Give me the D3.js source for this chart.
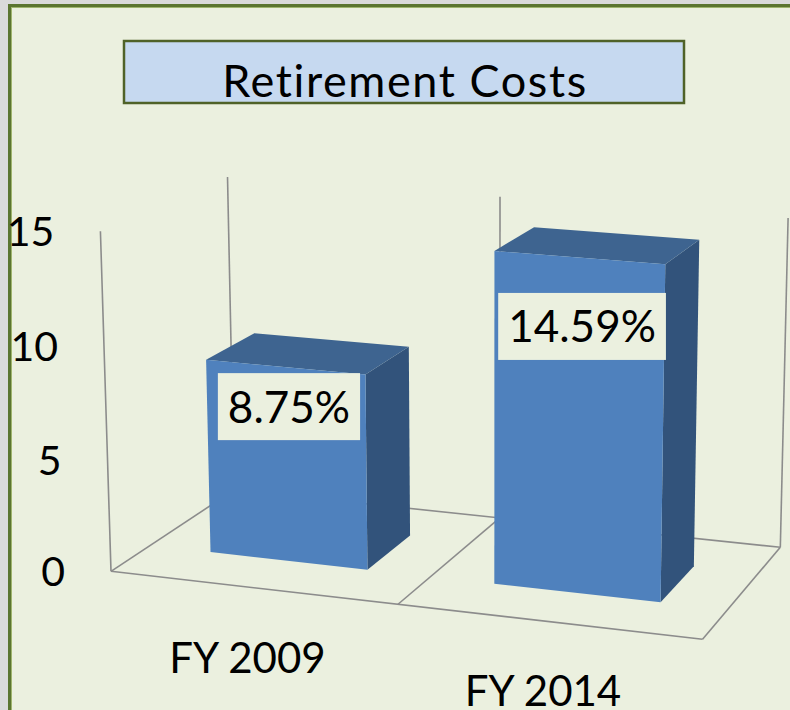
<!DOCTYPE html>
<html>
<head>
<meta charset="utf-8">
<script src="https://cdn.jsdelivr.net/npm/d3@7"></script>
<style>
  html, body { margin: 0; padding: 0; background: #dadada; }
  svg { display: block; font-family: Lato, "Noto Sans", sans-serif; }
</style>
</head>
<body>
<svg id="chart" width="790" height="710"></svg>
<script>
// data
const categories = ["FY 2009", "FY 2014"];
const values = [8.75, 14.59];
const valueLabels = ["8.75%", "14.59%"];
const yTicks = [0, 5, 10, 15];
const title = "Retirement Costs";

const W = 790, H = 710;
const svg = d3.select("#chart");

// 3d box corners (u = category axis, v = value axis, w = depth) -> screen
// these pin the perspective of the plot box, fitted below
const anchors = [
  [0, 0, 0, 110, 571],
  [0, 1, 0, 100, 232],
  [0, 0, 1, 234, 490],
  [0, 1, 1, 228, 177],
  [0.5, 1, 1, 500, 197],
  [0.5, 0, 0, 400, 603],
  [1, 1, 1, 788, 217],
  [1, 0, 1, 780, 548],
  [1, 0, 0, 702, 640]
];

function fitProjection(pts) {
  const n = 11;
  const M = Array.from({length: n}, () => new Array(n + 1).fill(0));
  function addRow(r, b) {
    for (let i = 0; i < n; i++) {
      for (let j = 0; j < n; j++) M[i][j] += r[i] * r[j];
      M[i][n] += r[i] * b;
    }
  }
  pts.forEach(([u, v, w, x, y]) => {
    addRow([u, v, w, 1, 0, 0, 0, 0, -x * u, -x * v, -x * w], x);
    addRow([0, 0, 0, 0, u, v, w, 1, -y * u, -y * v, -y * w], y);
  });
  // gauss elimination
  for (let c = 0; c < n; c++) {
    let piv = c;
    for (let r = c + 1; r < n; r++) if (Math.abs(M[r][c]) > Math.abs(M[piv][c])) piv = r;
    [M[c], M[piv]] = [M[piv], M[c]];
    for (let r = 0; r < n; r++) {
      if (r === c) continue;
      const f = M[r][c] / M[c][c];
      for (let k = c; k <= n; k++) M[r][k] -= f * M[c][k];
    }
  }
  return M.map((row, i) => row[n] / row[i]);
}

const P = fitProjection(anchors);
function project(u, v, w) {
  const d = P[8] * u + P[9] * v + P[10] * w + 1;
  return [
    (P[0] * u + P[1] * v + P[2] * w + P[3]) / d,
    (P[4] * u + P[5] * v + P[6] * w + P[7]) / d
  ];
}

// scales into the unit box
const x = d3.scaleBand().domain(categories).range([0, 1]).paddingInner(0.44).paddingOuter(0.22);
const y = d3.scaleLinear().domain([0, 15]).range([0, 1]);
const z = d3.scaleLinear().domain([0, 1]).range([0.3, 0.7]); // bar depth inside the box

// background
svg.append("rect")
  .attr("x", 9.5).attr("y", 5.5)
  .attr("width", W).attr("height", H)
  .attr("fill", "#ebf0df")
  .attr("stroke", "#5b7530")
  .attr("stroke-width", 3);
svg.append("rect")
  .attr("x", 11.5).attr("y", 7.5)
  .attr("width", W).attr("height", H)
  .attr("fill", "none")
  .attr("stroke", "#9fb56e")
  .attr("stroke-width", 1);

// title
const titleG = svg.append("g");
titleG.append("rect")
  .attr("x", 124).attr("y", 41)
  .attr("width", 560).attr("height", 62)
  .attr("fill", "#c6d9f0")
  .attr("stroke", "#4f6228")
  .attr("stroke-width", 2.5);
titleG.append("text")
  .attr("x", 405).attr("y", 97)
  .attr("text-anchor", "middle")
  .attr("font-size", 45)
  .attr("letter-spacing", 1.6)
  .attr("fill", "#000")
  .text(title);

// walls and floor lines
const line = d3.line();
const gridColor = "#8c8c8c";
const edges = [
  [[0, 0, 0], [0, 1, 0]],
  [[0, 0, 1], [0, 1, 1]],
  [[0.5, 0, 1], [0.5, 1, 1]],
  [[1, 0, 1], [1, 1, 1]],
  [[0, 0, 0], [1, 0, 0]],
  [[1, 0, 0], [1, 0, 1]],
  [[1, 0, 1], [0, 0, 1]],
  [[0, 0, 1], [0, 0, 0]],
  [[0.5, 0, 0], [0.5, 0, 1]]
];
svg.append("g").selectAll("path")
  .data(edges)
  .join("path")
  .attr("d", e => line(e.map(p => project(...p))))
  .attr("fill", "none")
  .attr("stroke", gridColor)
  .attr("stroke-width", 1.6);

// y axis labels on the front left edge
svg.append("g").selectAll("text")
  .data(yTicks)
  .join("text")
  .attr("x", d => project(0, y(d), 0)[0] - 46)
  .attr("y", d => project(0, y(d), 0)[1] + 14.5)
  .attr("text-anchor", "end")
  .attr("font-size", 41)
  .text(d => d);

// bars
const bars = categories.map((c, i) => {
  const u0 = x(c), u1 = x(c) + x.bandwidth();
  const v = y(values[i]);
  const w0 = z(0), w1 = z(1);
  return {
    front: [[u0, 0, w0], [u1, 0, w0], [u1, v, w0], [u0, v, w0]],
    top: [[u0, v, w0], [u1, v, w0], [u1, v, w1], [u0, v, w1]],
    side: [[u1, 0, w0], [u1, 0, w1], [u1, v, w1], [u1, v, w0]]
  };
});
const faceColors = {front: "#4f81bd", top: "#3e6490", side: "#32537b"};
const barG = svg.append("g").selectAll("g")
  .data(bars)
  .join("g");
["side", "top", "front"].forEach(f => {
  barG.append("path")
    .attr("d", b => line(b[f].map(p => project(...p))) + "Z")
    .attr("fill", faceColors[f]);
});

// data labels
const labG = svg.append("g").selectAll("g")
  .data(values)
  .join("g")
  .attr("transform", (d, i) => {
    const c = categories[i];
    const p = project(x(c) + x.bandwidth() * 0.52, y(d * 0.8), z(0));
    return `translate(${p[0]},${p[1]})`;
  });
labG.append("rect").attr("fill", "#ebf0df");
labG.append("text")
  .attr("text-anchor", "middle")
  .attr("y", 16)
  .attr("font-size", 44)
  .text((d, i) => valueLabels[i]);
labG.each(function() {
  const g = d3.select(this);
  const bb = g.select("text").node().getBBox();
  g.select("rect")
    .attr("x", -bb.width / 2 - 10).attr("y", -33.5)
    .attr("width", bb.width + 20).attr("height", 67);
});

// category labels under the front edge
svg.append("g").selectAll("text")
  .data(categories)
  .join("text")
  .attr("x", d => project(x(d) + x.bandwidth() / 2, 0, 0)[0] - 5)
  .attr("y", d => project(x(d) + x.bandwidth() / 2, 0, 0)[1] + 85)
  .attr("text-anchor", "middle")
  .attr("font-size", 42)
  .text(d => d);
</script>
</body>
</html>
